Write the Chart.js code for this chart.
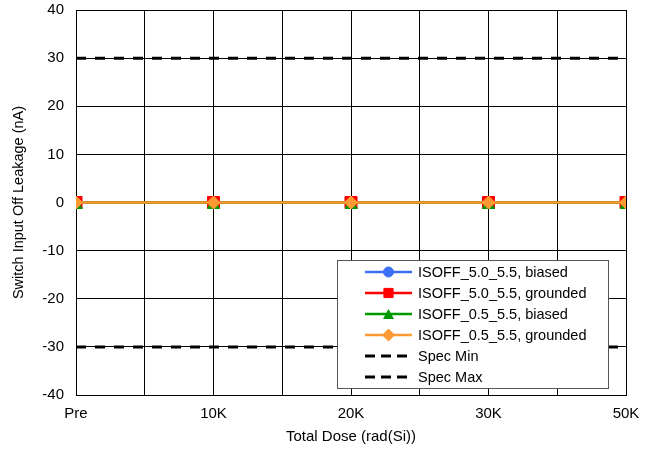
<!DOCTYPE html>
<html><head><meta charset="utf-8">
<script src="https://cdn.jsdelivr.net/npm/chart.js@4/dist/chart.umd.min.js"></script>
<style>html,body{margin:0;padding:0;background:#fff}#wrap{width:653px;height:450px}</style>
</head><body><div id="wrap"><canvas id="c" width="653" height="450"></canvas></div>
<script>
const categories = ['Pre', '10K', '20K', '30K', '50K'];
const isoff50Biased = [0, 0, 0, 0, 0];
const isoff50Grounded = [0, 0, 0, 0, 0];
const isoff05Biased = [0, 0, 0, 0, 0];
const isoff05Grounded = [0, 0, 0, 0, 0];
const specMin = [-30, -30, -30, -30, -30];
const specMax = [30, 30, 30, 30, 30];
const yTicks = [-40, -30, -20, -10, 0, 10, 20, 30, 40];

const pts = arr => arr.map((v, i) => ({x: i, y: v}));
const FONT = 'Liberation Sans, Arial, sans-serif';

function triangleMarker(w, h, color) {
  const c = document.createElement('canvas');
  c.width = w; c.height = h;
  const g = c.getContext('2d');
  g.fillStyle = color;
  g.beginPath(); g.moveTo(w / 2, 0); g.lineTo(w, h); g.lineTo(0, h); g.closePath(); g.fill();
  return c;
}
const GREEN = '#009a00';
const triPlot = triangleMarker(13, 12, GREEN);
const triLegend = triangleMarker(11, 10, GREEN);

function series(label, data, color, style, radius, legendStyle, legendRadius, order) {
  return {label, data: pts(data), borderColor: color, backgroundColor: color,
    borderWidth: 2.5, pointStyle: style, pointRadius: radius, legendStyle, legendRadius,
    pointBorderWidth: 1, pointBorderColor: color, order};
}
const datasets = [
  series('ISOFF_5.0_5.5, biased', isoff50Biased, '#3b6ff5', 'circle', 4, 'circle', 5, 4),
  series('ISOFF_5.0_5.5, grounded', isoff50Grounded, '#ff0000', 'rect', 8.5, 'rect', 6.5, 3),
  series('ISOFF_0.5_5.5, biased', isoff05Biased, GREEN, triPlot, 7, triLegend, 6, 2),
  series('ISOFF_0.5_5.5, grounded', isoff05Grounded, '#ff9933', 'rectRot', 6.5, 'rectRot', 6, 1),
  {label: 'Spec Min', data: pts(specMin), borderColor: '#000', borderWidth: 3, borderDash: [10, 9], legendDash: [10, 6], pointRadius: 0, order: 5},
  {label: 'Spec Max', data: pts(specMax), borderColor: '#000', borderWidth: 3, borderDash: [10, 9], legendDash: [10, 6], pointRadius: 0, order: 5}
];

const legendPlugin = {
  id: 'boxLegend',
  afterDatasetsDraw(chart) {
    const ctx = chart.ctx;
    const x0 = 337, y0 = 260, w = 271, h = 128;
    ctx.save();
    ctx.fillStyle = '#fff';
    ctx.fillRect(x0, y0, w, h);
    ctx.strokeStyle = '#555';
    ctx.lineWidth = 1;
    ctx.strokeRect(x0 + 0.5, y0 + 0.5, w, h);
    chart.data.datasets.forEach((ds, i) => {
      const y = 272 + i * 21;
      ctx.save();
      ctx.strokeStyle = ds.borderColor;
      ctx.lineWidth = ds.borderWidth;
      if (ds.legendDash) ctx.setLineDash(ds.legendDash);
      ctx.beginPath(); ctx.moveTo(365, y); ctx.lineTo(412, y); ctx.stroke();
      ctx.restore();
      if (ds.pointRadius > 0) {
        ctx.save();
        ctx.fillStyle = ds.backgroundColor; ctx.strokeStyle = ds.borderColor;
        Chart.helpers.drawPoint(ctx, {pointStyle: ds.legendStyle, radius: ds.legendRadius, borderWidth: 1, rotation: 0}, 388.5, y);
        ctx.restore();
      }
      ctx.fillStyle = '#000';
      ctx.font = '14.5px ' + FONT;
      ctx.textBaseline = 'middle';
      ctx.textAlign = 'left';
      ctx.fillText(ds.label, 418, y + 1);
    });
    ctx.restore();
  }
};

new Chart(document.getElementById('c'), {
  type: 'line',
  data: {datasets},
  options: {
    responsive: false, animation: false,
    layout: {padding: {top: 10, right: 27, left: 0, bottom: 0}},
    plugins: {legend: {display: false}, tooltip: {enabled: false}},
    scales: {
      x: {type: 'linear', min: 0, max: categories.length - 1,
        afterBuildTicks: s => { s.ticks = []; for (let v = 0; v <= categories.length - 1; v += 0.5) s.ticks.push({value: v}); },
        afterFit: s => { s.height = 55; },
        grid: {color: '#000', lineWidth: 1, drawTicks: false},
        border: {color: '#000', width: 1},
        ticks: {autoSkip: false, maxRotation: 0, padding: 10, color: '#000', font: {family: FONT, size: 15},
          callback: v => Number.isInteger(v) ? categories[v] : ''},
        title: {display: true, text: 'Total Dose (rad(Si))', color: '#000', font: {family: FONT, size: 15}, padding: {top: 4}}
      },
      y: {min: -40, max: 40,
        afterBuildTicks: s => { s.ticks = yTicks.map(v => ({value: v})); },
        afterFit: s => { s.width = 76; s.paddingTop = 0; s.paddingBottom = 0; },
        grid: {color: '#000', lineWidth: 1, drawTicks: false},
        border: {color: '#000', width: 1},
        ticks: {padding: 12, color: '#000', font: {family: FONT, size: 15}},
        title: {display: true, text: 'Switch Input Off Leakage (nA)', color: '#000', font: {family: FONT, size: 14.5}, padding: {top: 10, bottom: 6}}
      }
    }
  },
  plugins: [legendPlugin]
});
</script></body></html>
